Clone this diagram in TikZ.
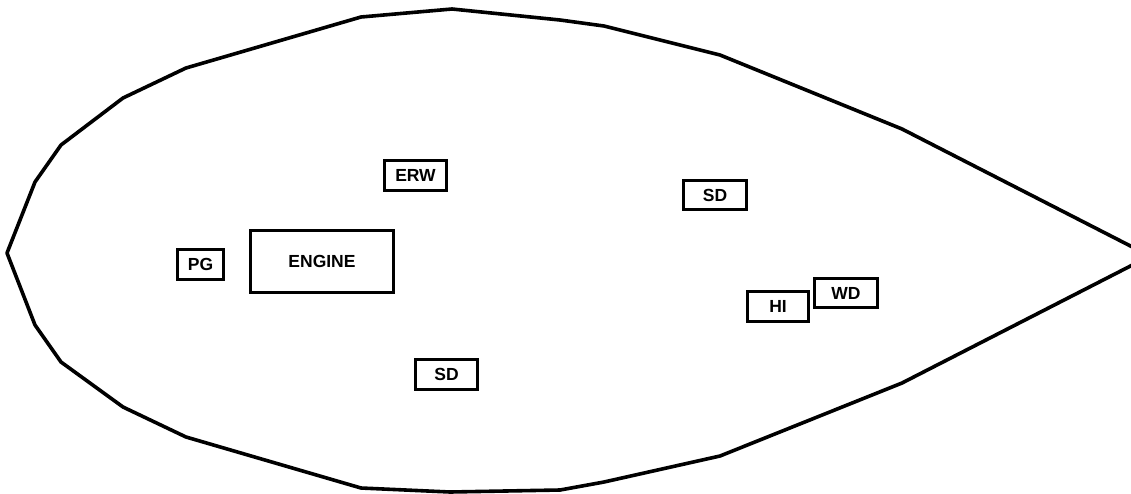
\documentclass[tikz,border=0pt]{standalone}
\usepackage{fontspec}
\setmainfont{Liberation Sans}
\begin{document}
\begin{tikzpicture}[x=1pt,y=-1pt,
  comp/.style={draw, line width=2.6pt, inner sep=0pt, font=\fontsize{17.5}{17.5}\selectfont\bfseries},
  hull/.style={line width=3.6pt, line join=round}]
\useasboundingbox (0,0) rectangle (1131,493);
\fill[white] (0,0) rectangle (1131,493);
\draw[hull] (7,253) -- (35,182) -- (61,145) -- (123,98) -- (186,68) -- (361,17) -- (452,9)
  -- (560,20) -- (604,26) -- (720,55) -- (902,129) -- (1150,256)
  -- (902,383) -- (720,456) -- (604,482) -- (560,490) -- (450,492) -- (361,488)
  -- (186,437) -- (123,407) -- (61,362) -- (35,325) -- cycle;
\node[comp, minimum width=46pt, minimum height=30pt] (pg) at (200.5,264.5) {PG};
\node[comp, minimum width=143pt, minimum height=62pt] (engine) at (322,261.5) {ENGINE};
\node[comp, minimum width=62pt, minimum height=30pt] (erw) at (415.5,175.5) {ERW};
\node[comp, minimum width=63pt, minimum height=29pt] (sda) at (715,195) {SD};
\node[comp, minimum width=61pt, minimum height=30pt] (hi) at (778,306.5) {HI};
\node[comp, minimum width=63pt, minimum height=29pt] (wd) at (846,293) {WD};
\node[comp, minimum width=62pt, minimum height=30pt] (sdb) at (446.5,374.5) {SD};
\end{tikzpicture}
\end{document}
